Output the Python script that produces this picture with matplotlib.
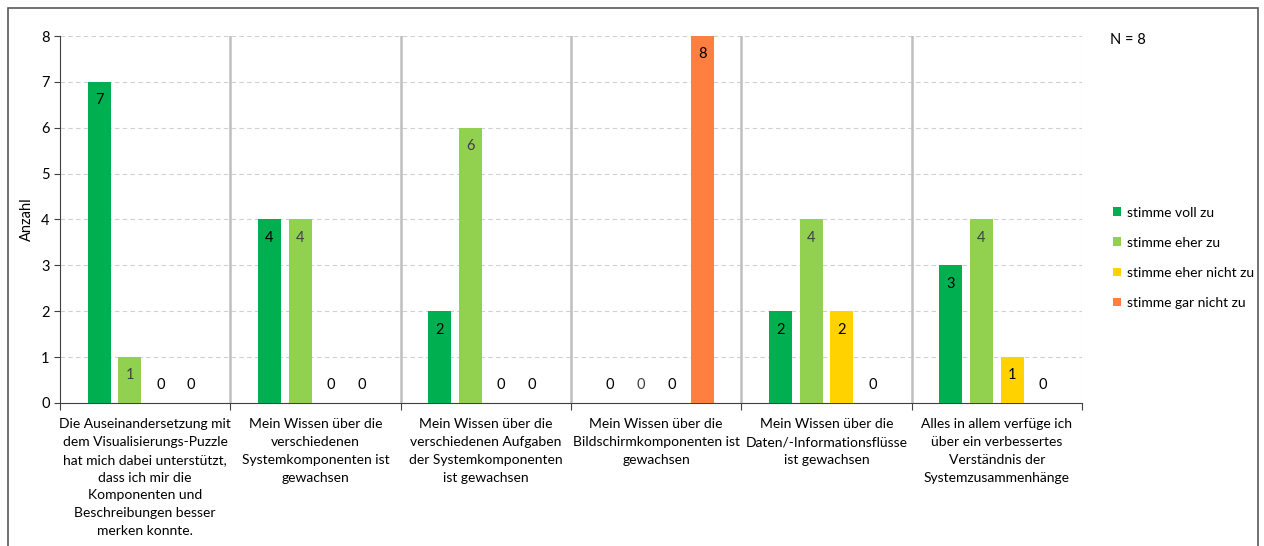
import matplotlib.pyplot as plt
import numpy as np
from matplotlib.patches import Rectangle

plt.rcParams['font.family'] = ['Lato', 'DejaVu Sans']

# Fragen (Zeilenumbrüche wie im Original)
questions = [
    "Die Auseinandersetzung mit\ndem Visualisierungs-Puzzle\nhat mich dabei unterstützt,\ndass ich mir die\nKomponenten und\nBeschreibungen besser\nmerken konnte.",
    "Mein Wissen über die\nverschiedenen\nSystemkomponenten ist\ngewachsen",
    "Mein Wissen über die\nverschiedenen Aufgaben\nder Systemkomponenten\nist gewachsen",
    "Mein Wissen über die\nBildschirmkomponenten ist\ngewachsen",
    "Mein Wissen über die\nDaten/-Informationsflüsse\nist gewachsen",
    "Alles in allem verfüge ich\nüber ein verbessertes\nVerständnis der\nSystemzusammenhänge",
]
answers = ["stimme voll zu", "stimme eher zu", "stimme eher nicht zu", "stimme gar nicht zu"]

voll_zu = [7, 4, 2, 0, 2, 3]
eher_zu = [1, 4, 6, 0, 4, 4]
eher_nicht_zu = [0, 0, 0, 0, 2, 1]
gar_nicht_zu = [0, 0, 0, 8, 0, 0]
n_total = 8

series = [voll_zu, eher_zu, eher_nicht_zu, gar_nicht_zu]
colors = ["#00B050", "#92D050", "#FFD200", "#FF7F41"]
label_colors = ["#000000", "#404040", "#000000", "#000000"]

fig = plt.figure(figsize=(12.64, 5.46), dpi=100)
ax = fig.add_axes([0.0475, 0.262, 0.8085, 0.672])

# Rahmen um die ganze Grafik
fig.patches.append(Rectangle((8 / 1264, -0.05), 1250 / 1264, 1.05 - 8 / 546,
                             transform=fig.transFigure, fill=False,
                             edgecolor="#595959", linewidth=1.2))

x = np.arange(len(questions))
step = 0.18
width = 0.135
for i, (vals, col, lcol) in enumerate(zip(series, colors, label_colors)):
    pos = x + (i - 1.5) * step
    ax.bar(pos, vals, width=width, color=col, label=answers[i], zorder=3)
    for p, v in zip(pos, vals):
        y = v - 0.4 if v > 0 else 0.4
        ax.text(p, y, str(v), ha="center", va="center", fontsize=10.5,
                color=lcol, zorder=4)

ax.set_xlim(-0.5, len(questions) - 0.5)
ax.set_ylim(0, 8)
ax.set_yticks(range(0, 9))
ax.yaxis.grid(True, linestyle=(0, (4, 3)), color="#D0D0D0", linewidth=0.8)
ax.set_axisbelow(True)

# Trennlinien zwischen den Fragen
for b in np.arange(0.5, len(questions) - 0.5, 1):
    ax.axvline(b, color="#BFBFBF", linewidth=1.8, zorder=1)
ax.axvline(len(questions) - 0.5, color="#D9D9D9", linewidth=0.8, zorder=1)

ax.set_xticks(np.arange(-0.5, len(questions), 1))
ax.set_xticklabels([])
ax.set_xticks(x, minor=True)
ax.set_xticklabels(questions, minor=True, fontsize=10, linespacing=1.58)
ax.tick_params(axis="x", which="major", length=5, direction="out", color="#404040")
ax.tick_params(axis="x", which="minor", length=0, pad=11)
ax.tick_params(axis="y", length=4, direction="out", color="#404040", labelsize=10.5)

for s in ["top", "right"]:
    ax.spines[s].set_visible(False)
ax.spines["left"].set_color("#404040")
ax.spines["bottom"].set_color("#404040")

ax.set_ylabel("Anzahl", fontsize=10.5, labelpad=5)

fig.text(1110 / 1264, 1 - 40 / 546, f"N = {n_total}", fontsize=10.5, va="center")

ax.legend(loc="upper left", bbox_to_anchor=(1.025, 0.55), frameon=False,
          fontsize=10, handlelength=0.6, handleheight=0.6, handletextpad=0.4,
          labelspacing=1.3, borderaxespad=0)

fig.savefig("out.png", dpi=100)
